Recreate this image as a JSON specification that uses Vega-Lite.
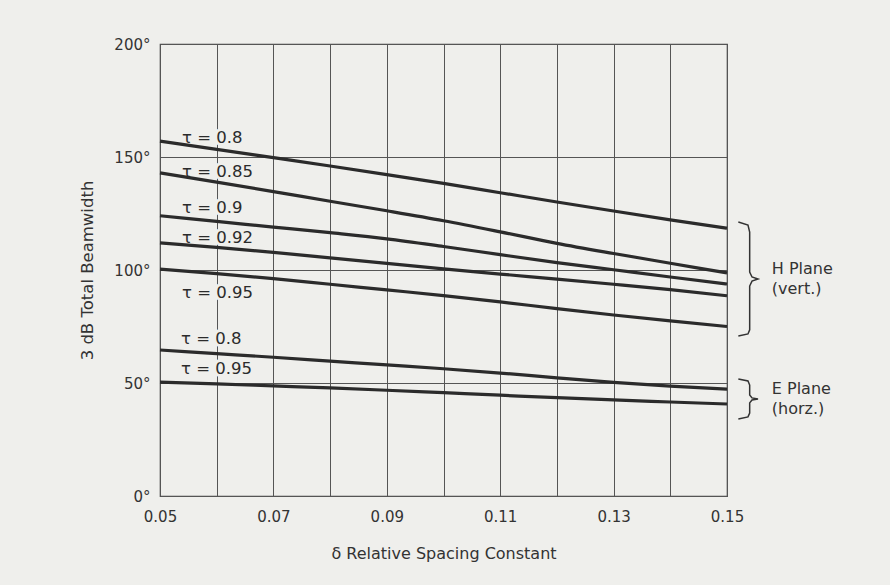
{
  "$schema": "https://vega.github.io/schema/vega-lite/v6.json",
  "width": 567,
  "height": 452,
  "autosize": {"type": "none"},
  "padding": {"left": 160, "top": 44, "right": 163, "bottom": 89},
  "background": "#efefec",
  "config": {
    "view": {"stroke": "#444", "strokeWidth": 1.2},
    "font": "DejaVu Sans",
    "axis": {"labelColor": "#333", "titleColor": "#333", "domain": false, "ticks": false, "gridColor": "#555", "gridOpacity": 1, "gridWidth": 1}
  },
  "datasets": {
    "curves": [
      {"tau": "H 0.8", "delta": 0.05, "bw": 157}, {"tau": "H 0.8", "delta": 0.06, "bw": 153.4}, {"tau": "H 0.8", "delta": 0.07, "bw": 149.7}, {"tau": "H 0.8", "delta": 0.08, "bw": 146}, {"tau": "H 0.8", "delta": 0.09, "bw": 142.2}, {"tau": "H 0.8", "delta": 0.10, "bw": 138.3}, {"tau": "H 0.8", "delta": 0.11, "bw": 134.2}, {"tau": "H 0.8", "delta": 0.12, "bw": 130.1}, {"tau": "H 0.8", "delta": 0.13, "bw": 126.1}, {"tau": "H 0.8", "delta": 0.14, "bw": 122.2}, {"tau": "H 0.8", "delta": 0.15, "bw": 118.5},
      {"tau": "H 0.85", "delta": 0.05, "bw": 143}, {"tau": "H 0.85", "delta": 0.06, "bw": 138.9}, {"tau": "H 0.85", "delta": 0.07, "bw": 134.7}, {"tau": "H 0.85", "delta": 0.08, "bw": 130.4}, {"tau": "H 0.85", "delta": 0.09, "bw": 126.2}, {"tau": "H 0.85", "delta": 0.10, "bw": 121.8}, {"tau": "H 0.85", "delta": 0.11, "bw": 116.9}, {"tau": "H 0.85", "delta": 0.12, "bw": 111.8}, {"tau": "H 0.85", "delta": 0.13, "bw": 107.3}, {"tau": "H 0.85", "delta": 0.14, "bw": 103}, {"tau": "H 0.85", "delta": 0.15, "bw": 98.7},
      {"tau": "H 0.9", "delta": 0.05, "bw": 124}, {"tau": "H 0.9", "delta": 0.06, "bw": 121.5}, {"tau": "H 0.9", "delta": 0.07, "bw": 119}, {"tau": "H 0.9", "delta": 0.08, "bw": 116.5}, {"tau": "H 0.9", "delta": 0.09, "bw": 113.8}, {"tau": "H 0.9", "delta": 0.10, "bw": 110.4}, {"tau": "H 0.9", "delta": 0.11, "bw": 106.8}, {"tau": "H 0.9", "delta": 0.12, "bw": 103.3}, {"tau": "H 0.9", "delta": 0.13, "bw": 100.1}, {"tau": "H 0.9", "delta": 0.14, "bw": 96.9}, {"tau": "H 0.9", "delta": 0.15, "bw": 93.8},
      {"tau": "H 0.92", "delta": 0.05, "bw": 112}, {"tau": "H 0.92", "delta": 0.06, "bw": 110}, {"tau": "H 0.92", "delta": 0.07, "bw": 107.8}, {"tau": "H 0.92", "delta": 0.08, "bw": 105.4}, {"tau": "H 0.92", "delta": 0.09, "bw": 102.9}, {"tau": "H 0.92", "delta": 0.10, "bw": 100.5}, {"tau": "H 0.92", "delta": 0.11, "bw": 98.2}, {"tau": "H 0.92", "delta": 0.12, "bw": 96}, {"tau": "H 0.92", "delta": 0.13, "bw": 93.7}, {"tau": "H 0.92", "delta": 0.14, "bw": 91.3}, {"tau": "H 0.92", "delta": 0.15, "bw": 88.6},
      {"tau": "H 0.95", "delta": 0.05, "bw": 100.4}, {"tau": "H 0.95", "delta": 0.06, "bw": 98.4}, {"tau": "H 0.95", "delta": 0.07, "bw": 96.2}, {"tau": "H 0.95", "delta": 0.08, "bw": 93.7}, {"tau": "H 0.95", "delta": 0.09, "bw": 91.2}, {"tau": "H 0.95", "delta": 0.10, "bw": 88.7}, {"tau": "H 0.95", "delta": 0.11, "bw": 85.9}, {"tau": "H 0.95", "delta": 0.12, "bw": 82.9}, {"tau": "H 0.95", "delta": 0.13, "bw": 80.1}, {"tau": "H 0.95", "delta": 0.14, "bw": 77.5}, {"tau": "H 0.95", "delta": 0.15, "bw": 75},
      {"tau": "E 0.8", "delta": 0.05, "bw": 64.6}, {"tau": "E 0.8", "delta": 0.06, "bw": 63}, {"tau": "E 0.8", "delta": 0.07, "bw": 61.4}, {"tau": "E 0.8", "delta": 0.08, "bw": 59.7}, {"tau": "E 0.8", "delta": 0.09, "bw": 58}, {"tau": "E 0.8", "delta": 0.10, "bw": 56.3}, {"tau": "E 0.8", "delta": 0.11, "bw": 54.4}, {"tau": "E 0.8", "delta": 0.12, "bw": 52.3}, {"tau": "E 0.8", "delta": 0.13, "bw": 50.3}, {"tau": "E 0.8", "delta": 0.14, "bw": 48.6}, {"tau": "E 0.8", "delta": 0.15, "bw": 47.3},
      {"tau": "E 0.95", "delta": 0.05, "bw": 50.4}, {"tau": "E 0.95", "delta": 0.06, "bw": 49.6}, {"tau": "E 0.95", "delta": 0.07, "bw": 48.7}, {"tau": "E 0.95", "delta": 0.08, "bw": 47.8}, {"tau": "E 0.95", "delta": 0.09, "bw": 46.8}, {"tau": "E 0.95", "delta": 0.10, "bw": 45.7}, {"tau": "E 0.95", "delta": 0.11, "bw": 44.6}, {"tau": "E 0.95", "delta": 0.12, "bw": 43.5}, {"tau": "E 0.95", "delta": 0.13, "bw": 42.5}, {"tau": "E 0.95", "delta": 0.14, "bw": 41.6}, {"tau": "E 0.95", "delta": 0.15, "bw": 40.7}
    ],
    "labels": [
      {"text": "τ = 0.8", "delta": 0.0539, "bw": 158.2},
      {"text": "τ = 0.85", "delta": 0.0539, "bw": 143.2},
      {"text": "τ = 0.9", "delta": 0.0539, "bw": 127.3},
      {"text": "τ = 0.92", "delta": 0.0539, "bw": 114.2},
      {"text": "τ = 0.95", "delta": 0.0539, "bw": 89.8},
      {"text": "τ = 0.8", "delta": 0.0537, "bw": 69.4},
      {"text": "τ = 0.95", "delta": 0.0537, "bw": 56.0}
    ],
    "brackets": [
      {"grp": "H", "ord": 1, "delta": 0.15200, "bw": 121.2}, {"grp": "H", "ord": 2, "delta": 0.15370, "bw": 119.9}, {"grp": "H", "ord": 3, "delta": 0.15400, "bw": 116.8}, {"grp": "H", "ord": 4, "delta": 0.15400, "bw": 99.1}, {"grp": "H", "ord": 5, "delta": 0.15441, "bw": 96.9}, {"grp": "H", "ord": 6, "delta": 0.15547, "bw": 96.0}, {"grp": "H", "ord": 7, "delta": 0.15441, "bw": 95.1}, {"grp": "H", "ord": 8, "delta": 0.15400, "bw": 92.9}, {"grp": "H", "ord": 9, "delta": 0.15400, "bw": 73.5}, {"grp": "H", "ord": 10, "delta": 0.15370, "bw": 71.7}, {"grp": "H", "ord": 11, "delta": 0.15200, "bw": 70.8},
      {"grp": "E", "ord": 1, "delta": 0.15200, "bw": 51.8}, {"grp": "E", "ord": 2, "delta": 0.15370, "bw": 50.9}, {"grp": "E", "ord": 3, "delta": 0.15400, "bw": 49.1}, {"grp": "E", "ord": 4, "delta": 0.15400, "bw": 44.7}, {"grp": "E", "ord": 5, "delta": 0.15441, "bw": 43.4}, {"grp": "E", "ord": 6, "delta": 0.15547, "bw": 42.9}, {"grp": "E", "ord": 7, "delta": 0.15441, "bw": 42.5}, {"grp": "E", "ord": 8, "delta": 0.15400, "bw": 41.2}, {"grp": "E", "ord": 9, "delta": 0.15400, "bw": 36.7}, {"grp": "E", "ord": 10, "delta": 0.15370, "bw": 35.0}, {"grp": "E", "ord": 11, "delta": 0.15200, "bw": 34.1}
    ],
    "planes": [
      {"text": "H Plane", "delta": 0.1579, "bw": 100.5},
      {"text": "(vert.)", "delta": 0.1579, "bw": 91.5},
      {"text": "E Plane", "delta": 0.1579, "bw": 47.5},
      {"text": "(horz.)", "delta": 0.1579, "bw": 38.7}
    ]
  },
  "layer": [
    {
      "data": {"name": "labels"},
      "mark": {"type": "text", "align": "left", "baseline": "middle", "fontSize": 16.5, "color": "#333", "stroke": "#efefec", "strokeWidth": 6, "font": "DejaVu Sans"},
      "encoding": {
        "x": {
          "field": "delta", "type": "quantitative",
          "scale": {"domain": [0.05, 0.15], "nice": false, "zero": false},
          "axis": {
            "values": [0.05, 0.06, 0.07, 0.08, 0.09, 0.10, 0.11, 0.12, 0.13, 0.14, 0.15],
            "format": ".2f",
            "labelExpr": "round(datum.value * 100) % 2 == 1 ? datum.label : ''",
            "labelFlush": false,
            "labelFontSize": 15, "labelPadding": 13,
            "title": "δ Relative Spacing Constant", "titleFontSize": 16, "titleFontWeight": "normal",
            "titlePadding": 21
          }
        },
        "y": {
          "field": "bw", "type": "quantitative",
          "scale": {"domain": [0, 200], "nice": false},
          "axis": {
            "values": [0, 50, 100, 150, 200],
            "labelExpr": "datum.label + '°'",
            "labelFontSize": 15, "labelPadding": 10,
            "title": "3 dB Total Beamwidth", "titleFontSize": 16.5, "titleFontWeight": "normal",
            "titlePadding": 18
          }
        },
        "text": {"field": "text"}
      }
    },
    {
      "data": {"name": "curves"},
      "mark": {"type": "line", "color": "#2b2b2b", "strokeWidth": 3.2, "interpolate": "monotone"},
      "encoding": {
        "x": {"field": "delta", "type": "quantitative"},
        "y": {"field": "bw", "type": "quantitative"},
        "detail": {"field": "tau"}
      }
    },
    {
      "data": {"name": "labels"},
      "mark": {"type": "text", "align": "left", "baseline": "middle", "fontSize": 16.5, "color": "#2b2b2b", "font": "DejaVu Sans"},
      "encoding": {
        "x": {"field": "delta", "type": "quantitative"},
        "y": {"field": "bw", "type": "quantitative"},
        "text": {"field": "text"}
      }
    },
    {
      "data": {"name": "brackets"},
      "mark": {"type": "line", "color": "#333", "strokeWidth": 1.5, "clip": false, "interpolate": "linear"},
      "encoding": {
        "x": {"field": "delta", "type": "quantitative"},
        "y": {"field": "bw", "type": "quantitative"},
        "detail": {"field": "grp"},
        "order": {"field": "ord", "type": "quantitative"}
      }
    },
    {
      "data": {"name": "planes"},
      "mark": {"type": "text", "align": "left", "baseline": "middle", "fontSize": 16, "color": "#333", "clip": false, "font": "DejaVu Sans"},
      "encoding": {
        "x": {"field": "delta", "type": "quantitative"},
        "y": {"field": "bw", "type": "quantitative"},
        "text": {"field": "text"}
      }
    }
  ]
}
